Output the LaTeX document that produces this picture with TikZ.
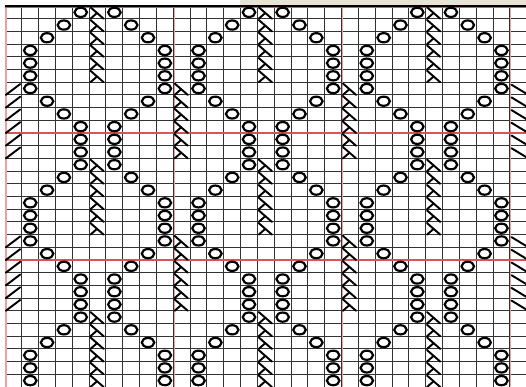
\documentclass[tikz,border=0pt]{standalone}
\definecolor{RepeatRed}{HTML}{D8545A}
\definecolor{TabBeige}{HTML}{E6E4D4}
\usepackage{tikz}
\usetikzlibrary{calc}

% central double decrease (lambda) in cell #1,#2
\newcommand{\cdd}[2]{%
  \draw[decrease] (#1+0.08,#2+0.1) -- (#1+0.86,#2+1.0);
  \draw[decrease] (#1+0.47,#2+0.55) -- (#1+0.08,#2+1.0);}

\begin{document}
\begin{tikzpicture}[
  x=0.3366cm, y=-0.254cm,
  gridline/.style={black!80, line width=0.55pt},
  repeatline/.style={RepeatRed, line width=0.6pt},
  yarnover/.style={black, line width=1.25pt},
  decrease/.style={black, line width=1.1pt, line cap=round}
]
  \useasboundingbox (-0.297,-0.472) rectangle (30.96,30);
  \fill[white] (-0.297,-0.472) rectangle (30.96,30);
  \fill[TabBeige] (13.96,-0.472) rectangle (30.96,-0.08);

  % chart grid
  \foreach \c in {0,...,30} \draw[gridline] (\c,0) -- (\c,30);
  \foreach \r in {1,...,29} \draw[gridline] (0,\r) -- (30.96,\r);
  \foreach \c in {0,10,20,30} \draw[repeatline, RepeatRed!55] (\c+0.06,0) -- (\c+0.06,30);
  \foreach \r in {10,20} \draw[repeatline] (0,\r) -- (30.96,\r);
  \draw[repeatline] (0,0.1) -- (30.96,0.1);
  \draw[black, line width=1.2pt] (0,0) -- (30.96,0);

  % yarn overs and centre decreases, 10 sts x 12 rows
  \foreach \o in {0,10,20} {
    \foreach \b in {0,12,24} {
      \foreach \i in {0,...,5} {
        \pgfmathtruncatemacro\row{\b+\i}
        \ifnum\row<30 \cdd{\o+5}{\row} \fi
      }
      \foreach \cx/\ry in {4/0,6/0,3/1,7/1,2/2,8/2,1/3,9/3,1/4,9/4,1/5,9/5,
                           1/6,9/6,2/7,8/7,3/8,7/8,4/9,6/9,4/10,6/10,4/11,6/11} {
        \pgfmathtruncatemacro\row{\b+\ry}
        \ifnum\row<30
          \draw[yarnover] (\o+\cx+0.5,\row+0.5) ellipse [x radius=0.125cm, y radius=0.092cm];
        \fi
      }
    }
  }

  % decreases between the repeats and at the edges
  \foreach \b in {6,18} {
    \foreach \i in {0,...,5} {
      \pgfmathtruncatemacro\row{\b+\i}
      \draw[decrease] (0.05,\row+1.0) -- (0.9,\row+0.15);
      \cdd{10}{\row}
      \cdd{20}{\row}
      \draw[decrease] (30.1,\row+0.2) -- (31.1,\row+1.0);
    }
  }
\end{tikzpicture}
\end{document}
